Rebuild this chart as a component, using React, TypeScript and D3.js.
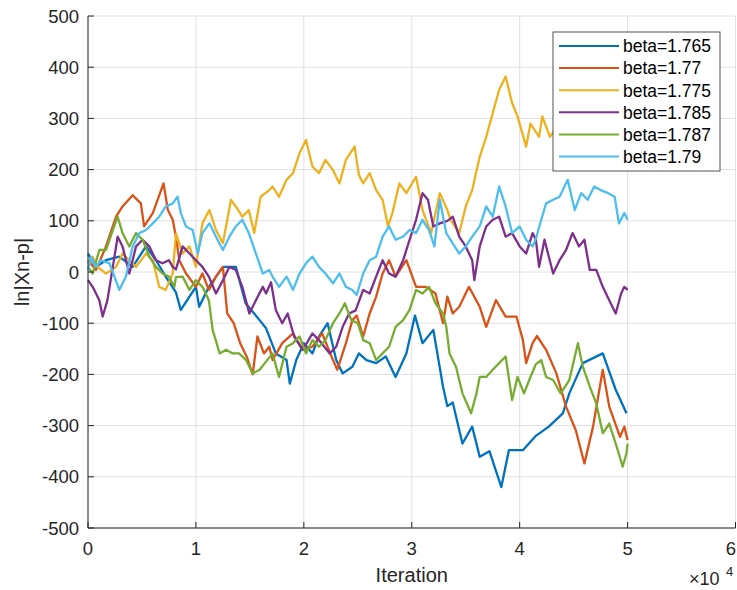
import React from "react";
import * as d3 from "d3";

type Pt = [number, number];

const legendLabels = ["beta=1.765", "beta=1.77", "beta=1.775", "beta=1.785", "beta=1.787", "beta=1.79"];
const seriesColors = ["#0072BD", "#D95319", "#EDB120", "#7E2F8E", "#77AC30", "#4DBEEE"];
const xTicks = [0, 1, 2, 3, 4, 5, 6];
const yTicks = [-500, -400, -300, -200, -100, 0, 100, 200, 300, 400, 500];

// x in units of 10^4 iterations, y = ln|Xn-p|
const beta1765: Pt[] = [[0,36],[0.074,10],[0.167,23],[0.29,30],[0.414,10],[0.537,50],[0.63,23],[0.72,-9],[0.815,-40],[0.86,-74],[1.0,-29],[1.03,-68],[1.12,-29],[1.25,10],[1.37,10],[1.46,-61],[1.59,-94],[1.65,-110],[1.74,-159],[1.84,-172],[1.87,-218],[1.93,-172],[2.0,-139],[2.08,-159],[2.14,-126],[2.22,-100],[2.3,-172],[2.36,-198],[2.45,-185],[2.51,-159],[2.58,-172],[2.67,-178],[2.76,-165],[2.85,-205],[2.95,-159],[3.03,-85],[3.1,-139],[3.2,-113],[3.29,-224],[3.33,-262],[3.38,-255],[3.47,-335],[3.56,-302],[3.63,-361],[3.72,-350],[3.83,-420],[3.9,-348],[4.03,-348],[4.15,-320],[4.27,-302],[4.4,-276],[4.46,-237],[4.585,-178],[4.77,-159],[4.89,-230],[4.99,-276]];
const beta177: Pt[] = [[0,23],[0.074,4],[0.167,50],[0.26,108],[0.32,128],[0.414,150],[0.49,134],[0.52,89],[0.6,115],[0.645,141],[0.7,173],[0.74,121],[0.785,102],[0.815,69],[0.846,23],[0.908,-3],[1.0,-29],[1.06,-3],[1.12,-35],[1.186,-9],[1.25,10],[1.29,-81],[1.35,-100],[1.41,-139],[1.47,-165],[1.526,-200],[1.57,-126],[1.63,-159],[1.68,-146],[1.71,-172],[1.8,-139],[1.9,-120],[1.99,-152],[2.08,-146],[2.17,-120],[2.27,-172],[2.31,-191],[2.39,-139],[2.45,-94],[2.49,-85],[2.55,-126],[2.61,-81],[2.67,-48],[2.73,-3],[2.79,23],[2.85,-9],[2.95,23],[3.04,-29],[3.13,-29],[3.22,-42],[3.29,-100],[3.33,-48],[3.38,-81],[3.44,-68],[3.53,-29],[3.63,-68],[3.69,-107],[3.78,-55],[3.87,-87],[3.97,-87],[4.03,-133],[4.06,-178],[4.12,-139],[4.16,-125],[4.245,-152],[4.34,-198],[4.43,-263],[4.52,-309],[4.6,-374],[4.68,-302],[4.77,-191],[4.83,-263],[4.93,-322],[4.97,-302],[5.0,-328]];
const beta1775: Pt[] = [[0,17],[0.043,30],[0.09,10],[0.167,-3],[0.26,10],[0.32,36],[0.445,10],[0.537,36],[0.6,23],[0.66,-29],[0.72,-35],[0.785,-3],[0.815,75],[0.877,36],[0.94,50],[1.0,10],[1.06,95],[1.125,121],[1.186,82],[1.25,56],[1.325,141],[1.37,128],[1.43,108],[1.49,121],[1.54,76],[1.6,147],[1.68,160],[1.71,167],[1.77,147],[1.84,180],[1.9,193],[1.96,232],[2.02,258],[2.08,206],[2.14,193],[2.2,219],[2.27,199],[2.33,173],[2.39,219],[2.47,245],[2.51,190],[2.55,173],[2.61,193],[2.67,160],[2.73,141],[2.78,89],[2.82,115],[2.885,173],[2.95,154],[3.04,186],[3.1,121],[3.18,76],[3.26,154],[3.33,121],[3.36,102],[3.44,76],[3.5,128],[3.56,160],[3.63,225],[3.69,264],[3.75,310],[3.81,356],[3.87,382],[3.93,330],[3.98,304],[4.06,245],[4.1,290],[4.18,264],[4.21,304],[4.28,264],[4.4,300],[4.5,280],[4.6,310],[4.7,290],[4.8,270],[4.9,300],[5.0,280]];
const beta1785: Pt[] = [[0,-16],[0.043,-29],[0.105,-55],[0.136,-87],[0.18,-55],[0.23,10],[0.275,69],[0.32,50],[0.383,-3],[0.445,50],[0.506,63],[0.568,50],[0.63,23],[0.69,17],[0.75,23],[0.785,10],[0.815,5],[0.877,50],[0.94,36],[1.0,23],[1.06,10],[1.12,-9],[1.186,-42],[1.25,-16],[1.31,10],[1.37,4],[1.43,-29],[1.495,-81],[1.556,-55],[1.62,-29],[1.65,-42],[1.696,-20],[1.74,-74],[1.8,-100],[1.85,-81],[1.91,-126],[1.99,-152],[2.08,-120],[2.14,-133],[2.24,-159],[2.3,-146],[2.36,-107],[2.42,-81],[2.48,-75],[2.55,-35],[2.61,-42],[2.67,-9],[2.73,23],[2.79,-3],[2.85,-9],[2.92,23],[2.98,63],[3.04,102],[3.1,154],[3.15,141],[3.2,89],[3.26,95],[3.33,100],[3.38,108],[3.44,69],[3.5,50],[3.56,23],[3.58,-16],[3.63,50],[3.69,89],[3.75,102],[3.81,108],[3.87,69],[3.93,76],[4.0,50],[4.06,36],[4.12,76],[4.15,63],[4.18,10],[4.23,63],[4.31,-3],[4.37,23],[4.43,43],[4.49,76],[4.55,50],[4.6,63],[4.65,4],[4.71,4],[4.77,-29],[4.83,-55],[4.89,-81],[4.94,-42],[4.97,-29],[5.0,-35]];
const beta1787: Pt[] = [[0,10],[0.043,-3],[0.105,43],[0.167,43],[0.23,82],[0.275,108],[0.32,76],[0.383,50],[0.445,76],[0.506,63],[0.568,30],[0.63,10],[0.69,-3],[0.75,-9],[0.8,-29],[0.815,-10],[0.877,-9],[0.94,-35],[1.0,-16],[1.06,-29],[1.12,-55],[1.155,-113],[1.22,-159],[1.28,-152],[1.34,-159],[1.4,-159],[1.465,-172],[1.526,-198],[1.59,-191],[1.65,-175],[1.71,-159],[1.77,-205],[1.84,-146],[1.9,-139],[1.96,-126],[2.02,-159],[2.08,-133],[2.14,-146],[2.2,-133],[2.27,-100],[2.33,-81],[2.38,-61],[2.44,-94],[2.5,-100],[2.55,-133],[2.61,-139],[2.67,-172],[2.73,-159],[2.79,-146],[2.85,-107],[2.92,-94],[2.98,-74],[3.04,-35],[3.1,-42],[3.16,-29],[3.22,-61],[3.29,-81],[3.32,-107],[3.35,-159],[3.41,-185],[3.47,-237],[3.55,-276],[3.6,-237],[3.63,-205],[3.69,-205],[3.75,-191],[3.81,-178],[3.87,-165],[3.93,-250],[3.98,-205],[4.04,-237],[4.1,-205],[4.15,-180],[4.2,-172],[4.245,-205],[4.31,-211],[4.38,-237],[4.46,-211],[4.54,-139],[4.585,-185],[4.65,-224],[4.71,-257],[4.77,-315],[4.83,-296],[4.89,-335],[4.955,-380],[4.99,-354],[5.0,-335]];
const beta179: Pt[] = [[0,4],[0.027,30],[0.074,10],[0.12,23],[0.2,17],[0.245,-9],[0.29,-35],[0.352,-9],[0.414,50],[0.476,76],[0.537,82],[0.6,95],[0.66,108],[0.72,128],[0.785,134],[0.83,147],[0.86,115],[0.908,89],[0.97,82],[1.017,36],[1.06,76],[1.125,95],[1.186,69],[1.25,43],[1.31,69],[1.37,89],[1.43,102],[1.49,76],[1.556,36],[1.62,-3],[1.68,4],[1.71,-9],[1.77,-29],[1.84,-9],[1.9,-35],[1.96,-3],[2.02,17],[2.08,30],[2.14,10],[2.2,-3],[2.27,-22],[2.33,-3],[2.39,-29],[2.45,-35],[2.49,-45],[2.55,-3],[2.61,23],[2.67,30],[2.73,69],[2.79,89],[2.85,63],[2.92,69],[2.98,82],[3.04,76],[3.1,102],[3.16,82],[3.21,50],[3.26,141],[3.32,76],[3.38,56],[3.44,36],[3.5,50],[3.56,69],[3.63,89],[3.69,128],[3.75,108],[3.81,167],[3.87,128],[3.93,76],[4.0,89],[4.06,63],[4.12,50],[4.15,65],[4.2,102],[4.245,134],[4.31,141],[4.37,147],[4.445,180],[4.51,121],[4.57,154],[4.63,141],[4.69,167],[4.75,160],[4.82,154],[4.88,147],[4.92,95],[4.97,115],[5.0,102]];

const allSeries: Pt[][] = [beta1765, beta177, beta1775, beta1785, beta1787, beta179];

const W = 737;
const H = 590;
const M = { left: 88, right: 735.5, top: 16, bottom: 528 };
const FONT = "'Liberation Sans', Arial, Helvetica, sans-serif";
const AX = "#262626";
const GRID = "#e0e0e0";

export default function App() {
  const x = d3.scaleLinear().domain([0, 6]).range([M.left, M.right]);
  const y = d3.scaleLinear().domain([-500, 500]).range([M.bottom, M.top]);
  const line = d3
    .line<Pt>()
    .x((d) => x(d[0]))
    .y((d) => y(d[1]));

  const legX = 553, legY = 32, legW = 167, legH = 139;
  const rowY = (i: number) => 46 + i * 22.1;

  return (
    <svg
      width={W}
      height={H}
      style={{ position: "absolute", left: 0, top: 0, background: "#fff" }}
      fontFamily={FONT}
    >
      <rect x={0} y={0} width={W} height={H} fill="#fff" />
      {xTicks.map((t) => (
        <line key={"gx" + t} x1={x(t)} x2={x(t)} y1={M.top} y2={M.bottom} stroke={GRID} strokeWidth={1} />
      ))}
      {yTicks.map((t) => (
        <line key={"gy" + t} x1={M.left} x2={M.right} y1={y(t)} y2={y(t)} stroke={GRID} strokeWidth={1} />
      ))}
      {allSeries.map((s, i) => (
        <path
          key={"s" + i}
          d={line(s) || ""}
          fill="none"
          stroke={seriesColors[i]}
          strokeWidth={2.3}
          strokeLinejoin="round"
        />
      ))}
      <line x1={M.left} x2={M.left} y1={M.top} y2={M.bottom} stroke={AX} strokeWidth={1} />
      <line x1={M.left} x2={M.right} y1={M.bottom} y2={M.bottom} stroke={AX} strokeWidth={1} />
      {xTicks.map((t) => (
        <g key={"tx" + t}>
          <line x1={x(t)} x2={x(t)} y1={M.bottom} y2={M.bottom - 6} stroke={AX} strokeWidth={1} />
          <text x={Math.min(x(t), 731)} y={M.bottom + 27} textAnchor="middle" fontSize={18.5} fill={AX}>
            {t}
          </text>
        </g>
      ))}
      {yTicks.map((t) => (
        <g key={"ty" + t}>
          <line x1={M.left} x2={M.left + 6} y1={y(t)} y2={y(t)} stroke={AX} strokeWidth={1} />
          <text x={79} y={y(t) + 6.6} textAnchor="end" fontSize={18.5} fill={AX}>
            {t}
          </text>
        </g>
      ))}
      <text x={689} y={585} fontSize={18} fill={AX}>
        ×10
      </text>
      <text x={726} y={576} fontSize={13} fill={AX}>
        4
      </text>
      <text x={(M.left + M.right) / 2} y={582} textAnchor="middle" fontSize={20} fill={AX}>
        Iteration
      </text>
      <text transform={`translate(29,272) rotate(-90)`} textAnchor="middle" fontSize={20} fill={AX}>
        ln|Xn-p|
      </text>
      <rect x={legX} y={legY} width={legW} height={legH} fill="#fff" stroke={AX} strokeWidth={0.8} />
      {legendLabels.map((lab, i) => (
        <g key={"lg" + i}>
          <line x1={559} x2={619} y1={rowY(i)} y2={rowY(i)} stroke={seriesColors[i]} strokeWidth={2} />
          <text x={623} y={rowY(i) + 6.3} fontSize={17.5} fill="#000">
            {lab}
          </text>
        </g>
      ))}
    </svg>
  );
}
